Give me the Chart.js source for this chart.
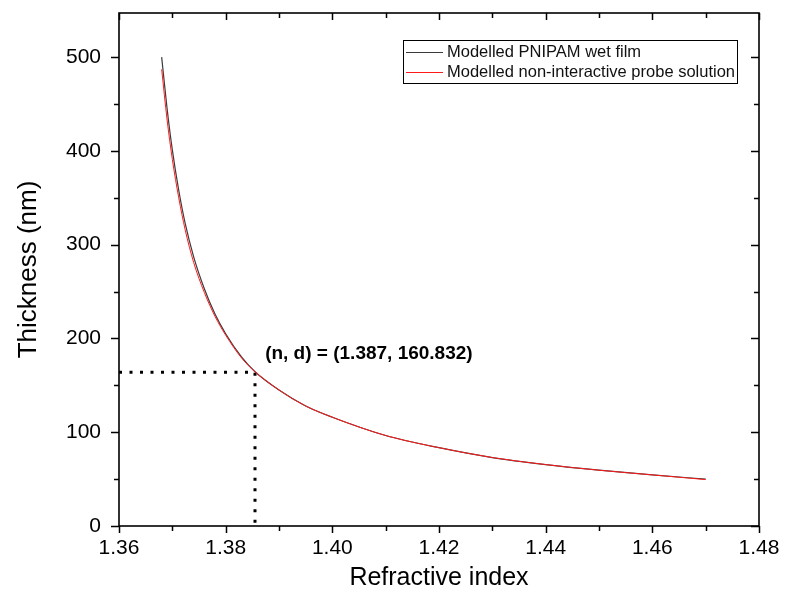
<!DOCTYPE html>
<html>
<head>
<meta charset="utf-8">
<script src="https://cdn.jsdelivr.net/npm/chart.js@4"></script>
<style>
html,body{margin:0;padding:0;background:#fff;}
#wrap{width:789px;height:605px;}
</style>
</head>
<body>
<div id="wrap"><canvas id="c" width="789" height="605"></canvas></div>
<script>
// ---- data ----
const seriesLabels = ["Modelled PNIPAM wet film", "Modelled non-interactive probe solution"];
const nBlack = [1.3680,1.3690,1.3700,1.3712,1.3724,1.3740,1.3760,1.3780,1.3800,1.3830,1.3855,1.3900,1.3950,1.4000,1.4100,1.4200,1.4300,1.4400,1.4500,1.4600,1.4700];
const dBlack = [500,446,401,358,323,287,253,226,205,180,164.5,145,128,116,96.5,83.5,73,65.5,59.5,54.5,50];
const nRed   = [1.3680,1.3690,1.3700,1.3712,1.3724,1.3740,1.3760,1.3780,1.3800,1.3830,1.3855,1.3900,1.3950,1.4000,1.4100,1.4200,1.4300,1.4400,1.4500,1.4600,1.4700];
const dRed   = [487,434,391,350,316,281,249,223.5,203.5,179,164.5,145,128,116,96.5,83.5,73,65.5,59.5,54.5,49.5];
const markerN = [1.36, 1.3855, 1.3855];
const markerD = [164, 164, 0];
const annotationText = "(n, d) = (1.387, 160.832)";
const annotationAt = [1.3874, 184];
const xTitle = "Refractive index";
const yTitle = "Thickness (nm)";
const xMin = 1.36, xMax = 1.48, xMajor = 0.02, xMinor = 0.01;
const yMin = 0, yMax = 547, yMajor = 100, yMinor = 50;

const toXY = (xs, ys) => xs.map((x, i) => ({x: x, y: ys[i]}));
const FONT = "'Liberation Sans', Arial, sans-serif";

const framePlugin = {
  id: 'frame',
  afterDraw(chart) {
    const ctx = chart.ctx, a = chart.chartArea;
    const xs = chart.scales.x, ys = chart.scales.y;
    ctx.save();
    ctx.strokeStyle = '#000';
    ctx.lineWidth = 1.6;
    ctx.strokeRect(a.left, a.top, a.right - a.left, a.bottom - a.top);
    ctx.lineWidth = 1.5;
    ctx.beginPath();
    const nx = Math.round((xMax - xMin) / xMinor);
    for (let i = 0; i <= nx; i++) {
      const v = xMin + i * xMinor;
      const p = Math.round(xs.getPixelForValue(v)) + 0.5;
      const major = i % 2 === 0;
      const L = major ? 7 : 5;
      ctx.moveTo(p, a.bottom); ctx.lineTo(p, a.bottom + L);
      ctx.moveTo(p, a.top); ctx.lineTo(p, a.top + L);
    }
    for (let v = yMin; v <= yMax; v += yMinor) {
      const p = Math.round(ys.getPixelForValue(v)) + 0.5;
      const major = v % yMajor === 0;
      const L = major ? 8 : 5;
      ctx.moveTo(a.left, p); ctx.lineTo(a.left - L, p);
      ctx.moveTo(a.right, p); ctx.lineTo(a.right - L, p);
    }
    ctx.stroke();

    // annotation
    ctx.fillStyle = '#000';
    ctx.font = "bold 19px " + FONT;
    ctx.textAlign = 'left';
    ctx.textBaseline = 'middle';
    ctx.fillText(annotationText, xs.getPixelForValue(annotationAt[0]), ys.getPixelForValue(annotationAt[1]));

    // legend box
    const bx = a.right - 356, by = a.top + 27, bw = 334, bh = 43;
    ctx.fillStyle = '#fff';
    ctx.fillRect(bx, by, bw, bh);
    ctx.lineWidth = 1;
    ctx.strokeStyle = '#000';
    ctx.strokeRect(bx + 0.5, by + 0.5, bw, bh);
    ctx.font = "16.5px " + FONT;
    ctx.textBaseline = 'middle';
    chart.data.datasets.slice(0, 2).forEach((ds, i) => {
      const cy = by + 12 + i * 20;
      ctx.strokeStyle = ds.borderColor;
      ctx.lineWidth = 1.2;
      ctx.beginPath();
      ctx.moveTo(bx + 3, cy + 0.5); ctx.lineTo(bx + 40, cy + 0.5);
      ctx.stroke();
      ctx.fillStyle = '#111';
      ctx.fillText(ds.label, bx + 44, cy);
    });
    ctx.restore();
  }
};

new Chart(document.getElementById('c'), {
  type: 'scatter',
  data: {
    datasets: [
      { label: seriesLabels[0], data: toXY(nBlack, dBlack), showLine: true, borderColor: '#3a3a3a', borderWidth: 1.2, pointRadius: 0, cubicInterpolationMode: 'monotone', order: 2 },
      { label: seriesLabels[1], data: toXY(nRed, dRed), showLine: true, borderColor: '#ff1a1a', borderWidth: 1, pointRadius: 0, cubicInterpolationMode: 'monotone', order: 1 },
      { label: 'marker', data: toXY(markerN, markerD), showLine: true, borderColor: '#000', borderWidth: 3, borderDash: [3, 7.5], pointRadius: 0, tension: 0, order: 3 }
    ]
  },
  options: {
    responsive: false,
    animation: false,
    layout: { padding: { top: 13, right: 30, left: 0, bottom: 0 } },
    plugins: { legend: { display: false }, tooltip: { enabled: false } },
    scales: {
      x: {
        type: 'linear', min: xMin, max: xMax,
        grid: { display: false, drawTicks: false },
        border: { display: false },
        ticks: { stepSize: xMajor, padding: 10, color: '#000', font: { size: 21, family: FONT }, callback: v => Number(v).toFixed(2), includeBounds: false, maxRotation: 0 },
        title: { display: true, text: xTitle, color: '#000', font: { size: 25, family: FONT }, padding: { top: 0, bottom: 12 } },
        afterFit(s) { s.height = 79; s.paddingLeft = 0; s.paddingRight = 0; }
      },
      y: {
        type: 'linear', min: yMin, max: yMax,
        grid: { display: false, drawTicks: false },
        border: { display: false },
        ticks: { stepSize: yMajor, padding: 18, color: '#000', font: { size: 21, family: FONT }, includeBounds: false },
        title: { display: true, text: yTitle, color: '#000', font: { size: 26, family: FONT }, padding: { top: 13, bottom: 0 } },
        afterFit(s) { s.width = 119; s.paddingTop = 0; s.paddingBottom = 0; }
      }
    }
  },
  plugins: [framePlugin]
});
</script>
</body>
</html>
